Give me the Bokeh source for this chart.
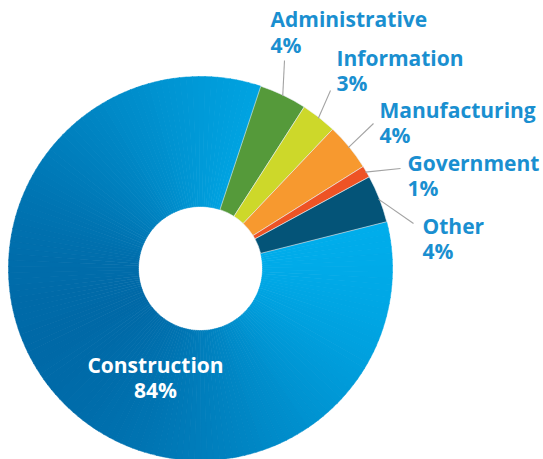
import numpy as np
from bokeh.plotting import figure
from bokeh.models import Range1d, ColumnDataSource
from bokeh.embed import file_html
from bokeh.resources import INLINE
from bokeh.core.properties import value

# ---- data ----
categories = ["Administrative", "Information", "Manufacturing", "Government", "Other", "Construction"]
values = [4, 3, 4, 1, 4, 84]
slice_colors = ["#559a3a", "#cdd82a", "#f7992f", "#ee5325", "#045478", "#0096d6"]

# ---- layout (image pixel coordinates, y downward) ----
IMG_H = 459
W, H = 543, 459
CX, CY = 200, 268
R_OUT, R_IN = 192, 62
START_CW = 18.3  # degrees clockwise from 12 o'clock where first slice starts

TXT_DY = -8
label_x = [270, 336, 379, 407, 422]
name_base = [26, 65, 117, 170, 233]
pct_base = [52, 90, 142, 195, 258]
leader_out = [(284, 60), (330, 90), (373, 123), (400, 168), (413, 223)]
constr_label = (155, 372, 397)

TEXT_BLUE = "#1a8fd0"
FONT = value("Open Sans")
FS = "21px"


def Y(y):
    return IMG_H - y


p = figure(width=W, height=H, output_backend="svg", toolbar_location=None,
           x_axis_type=None, y_axis_type=None, min_border=0,
           x_range=Range1d(0, W), y_range=Range1d(IMG_H - H, IMG_H),
           outline_line_color=None, background_fill_color="white",
           border_fill_color="white")
p.xgrid.visible = False
p.ygrid.visible = False

total = float(sum(values))
cum = 0.0
starts, ends, mids = [], [], []
for v in values:
    a = START_CW + cum / total * 360.0
    b = a + v / total * 360.0
    starts.append(a)
    ends.append(b)
    mids.append((a + b) / 2)
    cum += v

# Construction slice drawn as a gradient (many thin sub-wedges)
dark = np.array([0, 104, 166])
light = np.array([0, 176, 238])
phi_light = np.radians(25)
a, b = starts[-1], ends[-1]
n = 160
edges = np.linspace(a, b, n + 1)
gs, ge, gc = [], [], []
for i in range(n):
    ta, tb = edges[i], edges[i + 1]
    phi = np.radians(90 - (ta + tb) / 2)
    t = 0.5 + 0.5 * 0.95 * np.cos(phi - phi_light)
    c = (dark + (light - dark) * t).astype(int)
    col = "#%02x%02x%02x" % tuple(c)
    gs.append(np.radians(90 - tb - 0.15))
    ge.append(np.radians(90 - ta))
    gc.append(col)
p.annular_wedge(x=CX, y=Y(CY), inner_radius=R_IN, outer_radius=R_OUT,
                start_angle=gs, end_angle=ge, fill_color=gc, line_color=gc,
                line_width=0.5)

# small slices
src = ColumnDataSource(dict(
    start=[np.radians(90 - e) for e in ends[:-1]],
    end=[np.radians(90 - s) for s in starts[:-1]],
    color=slice_colors[:-1],
))
p.annular_wedge(x=CX, y=Y(CY), inner_radius=R_IN, outer_radius=R_OUT,
                start_angle="start", end_angle="end", fill_color="color",
                line_color="#e8eef2", line_width=0.6, source=src)

# leader lines
xs0, ys0, xs1, ys1 = [], [], [], []
for i in range(5):
    th = np.radians(mids[i])
    ix = CX + (R_OUT - 1) * np.sin(th)
    iy = CY - (R_OUT - 1) * np.cos(th)
    ox, oy = leader_out[i]
    xs0.append(ox); ys0.append(Y(oy)); xs1.append(ix); ys1.append(Y(iy))
p.segment(x0=xs0, y0=ys0, x1=xs1, y1=ys1, line_color="#a3a3a3", line_width=1.1)

# labels
pcts = ["%d%%" % v for v in values]
p.text(x=label_x, y=[Y(v + TXT_DY) for v in name_base], text=categories[:-1],
       text_font=FONT, text_font_size=FS, text_font_style="bold",
       text_color=TEXT_BLUE, text_align="left", text_baseline="alphabetic")
p.text(x=label_x, y=[Y(v + TXT_DY) for v in pct_base], text=pcts[:-1],
       text_font=FONT, text_font_size=FS, text_font_style="bold",
       text_color=TEXT_BLUE, text_align="left", text_baseline="alphabetic")
p.text(x=[constr_label[0], constr_label[0]],
       y=[Y(constr_label[1] + TXT_DY), Y(constr_label[2] + TXT_DY)],
       text=[categories[-1], pcts[-1]],
       text_font=FONT, text_font_size=FS, text_font_style="bold",
       text_color="white", text_align="center", text_baseline="alphabetic")

open("out.html", "w").write(file_html(p, INLINE))
